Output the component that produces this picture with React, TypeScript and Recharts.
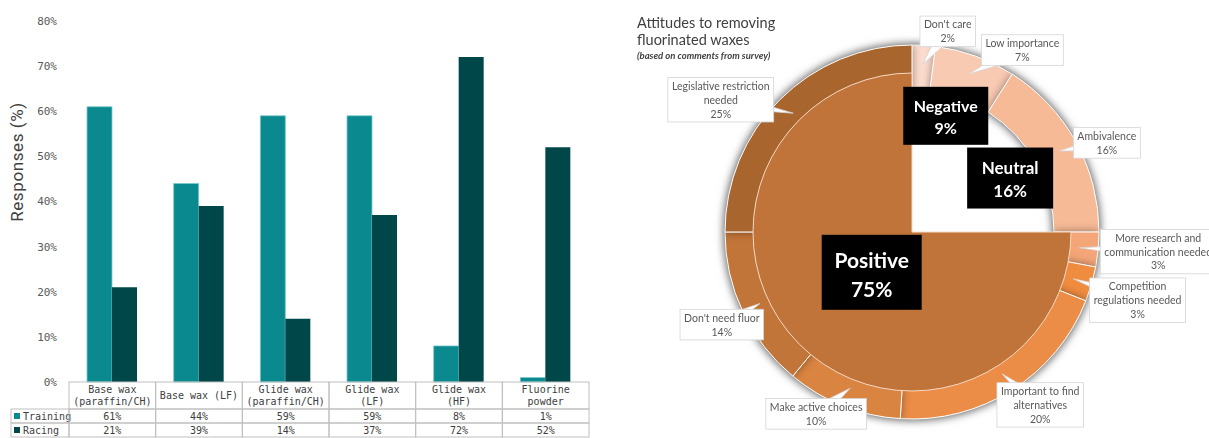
import React from 'react';
import { BarChart, Bar, XAxis, YAxis, PieChart, Pie, Cell } from 'recharts';

// ---- left chart data
const waxTypes = [
  'Base wax\n(paraffin/CH)',
  'Base wax (LF)',
  'Glide wax\n(paraffin/CH)',
  'Glide wax\n(LF)',
  'Glide wax\n(HF)',
  'Fluorine\npowder',
];
const training = [61, 44, 59, 59, 8, 1];
const racing = [21, 39, 14, 37, 72, 52];
const yTicks = [0, 10, 20, 30, 40, 50, 60, 70, 80];

// ---- right chart data
const attitudeNames = ['Negative', 'Neutral', 'Positive'];
const attitudeValues = [9, 16, 75];

const reasonNames = [
  "Don't care",
  'Low importance',
  'Ambivalence',
  'More research and\ncommunication needed',
  'Competition\nregulations needed',
  'Important to find\nalternatives',
  'Make active choices',
  "Don't need fluor",
  'Legislative restriction\nneeded',
];
const reasonValues = [2, 7, 16, 3, 3, 20, 10, 14, 25];

// ---- styling
const TEAL = '#0A8A8E';
const DARK_TEAL = '#00474A';
const MONO = '"DejaVu Sans Mono", monospace';
const SANS = 'Lato, "Open Sans", sans-serif';
const GRID = '#bfbfbf';
const TXT = '#404040';

const reasonColors = ['#FCDCCD', '#F9CAB2', '#F7BA97', '#F4A679', '#F08C3F', '#EC8D47', '#DA8441', '#C27538', '#A9652E'];
const attitudeColors = ['none', 'none', '#C0743A'];
const calloutOffsets = [[24, -14], [47, -6], [31, 1], [60, 2], [46, 16], [28, 15], [-27, 8], [-21, 13], [-59, 0]];
const innerLabelRadius = [121, 112, 57];
const innerLabelFont = [16, 17, 21];
const innerLabelBox = [[85, 58], [86, 61], [100, 75]];

const barData = waxTypes.map((type, i) => ({ type, training: training[i], racing: racing[i] }));
const attitudeData = attitudeNames.map((name, i) => ({ name, value: attitudeValues[i] }));
const reasonData = reasonNames.map((name, i) => ({ name, value: reasonValues[i] }));

const PLOT_LEFT = 69;
const PLOT_RIGHT = 589;
const COL_W = (PLOT_RIGHT - PLOT_LEFT) / waxTypes.length;
const ROW_TOP = 382;
const ROW_HEAD = 409;
const ROW_TRAIN = 423;
const ROW_END = 437;

function TableTick(props: any) {
  const { x, payload } = props;
  const i: number = payload.index ?? props.index;
  const left = x - COL_W / 2;
  const lines = waxTypes[i].split('\n');
  const headMid = (ROW_TOP + ROW_HEAD) / 2;
  const txt = { fontFamily: MONO, fontSize: 10, fill: TXT, textAnchor: 'middle' as const, dominantBaseline: 'central' as const };
  return (
    <g>
      {i === 0 && (
        <g>
          <rect x={11} y={ROW_HEAD} width={PLOT_LEFT - 11} height={ROW_TRAIN - ROW_HEAD} fill="none" stroke={GRID} />
          <rect x={11} y={ROW_TRAIN} width={PLOT_LEFT - 11} height={ROW_END - ROW_TRAIN} fill="none" stroke={GRID} />
          <rect x={14} y={(ROW_HEAD + ROW_TRAIN) / 2 - 3} width={6} height={6} fill={TEAL} />
          <rect x={14} y={(ROW_TRAIN + ROW_END) / 2 - 3} width={6} height={6} fill={DARK_TEAL} />
          <text {...txt} textAnchor="start" x={23} y={(ROW_HEAD + ROW_TRAIN) / 2}>Training</text>
          <text {...txt} textAnchor="start" x={23} y={(ROW_TRAIN + ROW_END) / 2}>Racing</text>
        </g>
      )}
      <rect x={left} y={ROW_TOP} width={COL_W} height={ROW_HEAD - ROW_TOP} fill="none" stroke={GRID} />
      <rect x={left} y={ROW_HEAD} width={COL_W} height={ROW_TRAIN - ROW_HEAD} fill="none" stroke={GRID} />
      <rect x={left} y={ROW_TRAIN} width={COL_W} height={ROW_END - ROW_TRAIN} fill="none" stroke={GRID} />
      {lines.map((l, k) => (
        <text key={k} {...txt} x={x} y={headMid + (k - (lines.length - 1) / 2) * 12}>{l}</text>
      ))}
      <text {...txt} x={x} y={(ROW_HEAD + ROW_TRAIN) / 2}>{training[i]}%</text>
      <text {...txt} x={x} y={(ROW_TRAIN + ROW_END) / 2}>{racing[i]}%</text>
    </g>
  );
}

const RAD = Math.PI / 180;
function polar(cx: number, cy: number, r: number, angle: number) {
  return [cx + r * Math.cos(-angle * RAD), cy + r * Math.sin(-angle * RAD)];
}

let ctx: CanvasRenderingContext2D | null = null;
function textWidth(s: string, font: string) {
  if (!ctx) ctx = document.createElement('canvas').getContext('2d');
  if (!ctx) return s.length * 5;
  ctx.font = font;
  return ctx.measureText(s).width;
}

const OUTER_R = 187;
const INNER_R = 159;
const RING_INNER = 142;

function ReasonLabel(props: any) {
  const { cx, cy, midAngle, index } = props;
  const [ax, ay] = polar(cx, cy, OUTER_R, midAngle);
  const [tx, ty] = polar(cx, cy, 168, midAngle);
  const [ox, oy] = calloutOffsets[index];
  const bx = ax + ox;
  const by = ay + oy;
  const lines = [...reasonNames[index].split('\n'), `${reasonValues[index]}%`];
  const fs = 10.5;
  const lh = 13.8;
  const w = Math.max(...lines.map((l) => textWidth(l, `${fs}px Lato`))) + 8;
  const h = lines.length * lh + 3;
  const dx = bx - tx;
  const dy = by - ty;
  const len = Math.hypot(dx, dy) || 1;
  const nx = (-dy / len) * 8;
  const ny = (dx / len) * 8;
  return (
    <g>
      <path d={`M${tx},${ty}L${bx + nx},${by + ny}L${bx - nx},${by - ny}Z`} fill="#fff" stroke="#d4d4d4" strokeWidth={0.8} />
      <rect x={bx - w / 2} y={by - h / 2} width={w} height={h} fill="#fff" stroke="#d4d4d4" strokeWidth={0.8} />
      {lines.map((l, k) => (
        <text
          key={k}
          x={bx}
          y={by + (k - (lines.length - 1) / 2) * lh}
          textAnchor="middle"
          dominantBaseline="central"
          fontFamily={SANS}
          fontSize={fs}
          fill="#595959"
        >
          {l}
        </text>
      ))}
    </g>
  );
}

function AttitudeLabel(props: any) {
  const { cx, cy, midAngle, index } = props;
  const [x, y] = polar(cx, cy, innerLabelRadius[index], midAngle);
  const [w, h] = innerLabelBox[index];
  const fs = innerLabelFont[index];
  const t = { textAnchor: 'middle' as const, dominantBaseline: 'central' as const, fill: '#fff', fontWeight: 700, fontSize: fs, fontFamily: SANS };
  return (
    <g>
      <rect x={x - w / 2} y={y - h / 2} width={w} height={h} fill="#000" />
      <text {...t} x={x} y={y - fs * 0.62}>{attitudeNames[index]}</text>
      <text {...t} x={x} y={y + fs * 0.75}>{attitudeValues[index]}%</text>
    </g>
  );
}

export default function App() {
  return (
    <div style={{ position: 'fixed', left: 0, top: 0, width: 1209, height: 438, background: '#fff', overflow: 'hidden' }}>
      <style>{`.ring { filter: drop-shadow(0px 0px 4px rgba(0,0,0,0.4)); }`}</style>
      <div style={{ position: 'absolute', left: 0, top: 0 }}>
        <BarChart
          width={600}
          height={438}
          data={barData}
          margin={{ top: 21, right: 600 - PLOT_RIGHT, bottom: 0, left: 0 }}
          barGap={0}
          barSize={25}
        >
          <XAxis dataKey="type" axisLine={false} tickLine={false} interval={0} height={56} tick={(p: any) => <TableTick {...p} />} />
          <YAxis
            domain={[0, 80]}
            ticks={yTicks}
            width={PLOT_LEFT}
            axisLine={false}
            tickLine={false}
            tickMargin={6}
            tickFormatter={(v) => `${v}%`}
            tick={{ fontFamily: MONO, fontSize: 11, fill: '#595959' }}
            label={{
              content: () => (
                <text
                  x={17}
                  y={162}
                  transform="rotate(-90 17 162)"
                  textAnchor="middle"
                  dominantBaseline="central"
                  fontFamily="Roboto, sans-serif"
                  fontSize={17}
                  letterSpacing={0.6}
                  fill={TXT}
                >
                  Responses (%)
                </text>
              ),
            }}
          />
          <Bar dataKey="training" fill={TEAL} stroke="#7ccacd" strokeWidth={0.8} isAnimationActive={false} />
          <Bar dataKey="racing" fill={DARK_TEAL} isAnimationActive={false} />
        </BarChart>
      </div>
      <div style={{ position: 'absolute', left: 600, top: 0 }}>
        <PieChart width={609} height={438} margin={{ top: 0, right: 0, bottom: 0, left: 0 }}>
          <Pie
            className="ring"
            data={reasonData}
            dataKey="value"
            nameKey="name"
            cx={312}
            cy={232}
            startAngle={90}
            endAngle={-270}
            innerRadius={RING_INNER}
            outerRadius={OUTER_R}
            stroke="#fff"
            strokeWidth={1}
            label={ReasonLabel}
            labelLine={false}
            isAnimationActive={false}
          >
            {reasonData.map((d, i) => (
              <Cell key={d.name} fill={reasonColors[i]} />
            ))}
          </Pie>
          <Pie
            data={attitudeData}
            dataKey="value"
            nameKey="name"
            cx={312}
            cy={232}
            startAngle={90}
            endAngle={-270}
            innerRadius={0}
            outerRadius={INNER_R}
            label={AttitudeLabel}
            labelLine={false}
            isAnimationActive={false}
          >
            {attitudeData.map((d, i) => (
              <Cell key={d.name} fill={attitudeColors[i]} stroke={i === 2 ? '#f5d9c4' : 'none'} strokeWidth={1} />
            ))}
          </Pie>
        </PieChart>
      </div>
      <div style={{ position: 'absolute', left: 637, top: 14, fontFamily: SANS, fontSize: 14.5, lineHeight: '17px', color: TXT }}>
        Attitudes to removing
        <br />
        fluorinated waxes
      </div>
      <div
        style={{
          position: 'absolute',
          left: 637,
          top: 50,
          fontFamily: SANS,
          fontSize: 9.5,
          fontStyle: 'italic',
          fontWeight: 700,
          color: TXT,
          whiteSpace: 'nowrap',
        }}
      >
        (based on comments from survey)
      </div>
    </div>
  );
}
